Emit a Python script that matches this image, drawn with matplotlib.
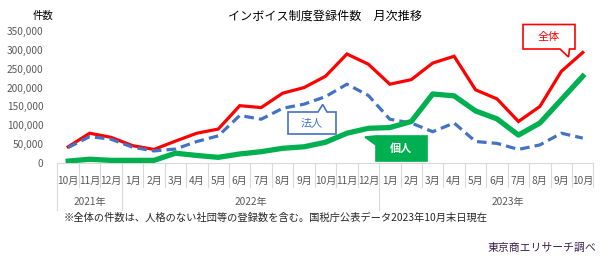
import numpy as np
import matplotlib
matplotlib.use("Agg")
import matplotlib.pyplot as plt
from matplotlib.patches import Polygon
from matplotlib.lines import Line2D
import matplotlib.transforms as mtransforms

plt.rcParams['font.family'] = ['Noto Sans CJK JP', 'DejaVu Sans']

# =========================
# DATA
# =========================
months = ["10月", "11月", "12月",
          "1月", "2月", "3月", "4月", "5月", "6月", "7月", "8月", "9月", "10月", "11月", "12月",
          "1月", "2月", "3月", "4月", "5月", "6月", "7月", "8月", "9月", "10月"]
years = ["2021年", "2022年", "2023年"]
year_start = [0, 3, 15]        # first category index of each year group
year_len = [3, 12, 12]         # 2023 group spans 12 slots, 10 filled

total = [43000, 79000, 68000, 46000, 36000, 58000, 79000, 90000, 152000, 147000,
         185000, 200000, 230000, 289000, 262000, 209000, 221000, 265000, 283000, 194000,
         170000, 110000, 150000, 243000, 293000]
corp = [41000, 70000, 63000, 42000, 32000, 37000, 57000, 72000, 126000, 116000,
        145000, 156000, 176000, 209000, 179000, 116000, 106000, 83000, 106000, 57000,
        52000, 36000, 48000, 79000, 66000]
indiv = [5000, 10000, 7000, 7000, 7000, 26000, 20000, 15000, 24000, 30000,
         39000, 43000, 55000, 79000, 92000, 94000, 110000, 183000, 178000, 138000,
         117000, 74000, 106000, 168000, 230000]

yticks = [0, 50000, 100000, 150000, 200000, 250000, 300000, 350000]

RED = "#FF0000"
BLUE = "#4472C4"
GREEN = "#00B050"
TICK = "#595959"

W, H = 610, 260

# =========================
# PLOT
# =========================
fig = plt.figure(figsize=(W / 100, H / 100), dpi=100)
ax = fig.add_axes([57.5 / W, 1 - 163 / H, 536 / W, 132 / H])

x = np.arange(len(months))
ax.plot(x, total, color=RED, linewidth=2.3, solid_joinstyle="miter", zorder=3)
ax.plot(x, corp, color=BLUE, linewidth=2.3, linestyle=(0, (3.0, 1.6)), zorder=3)
ax.plot(x, indiv, color=GREEN, linewidth=3.8, zorder=3)

ax.set_xlim(-0.5, len(months) - 0.5)
ax.set_ylim(0, 350000)
ax.set_yticks(yticks)
ax.set_yticklabels([f"{v:,}" for v in yticks], color=TICK, fontsize=7.3)
ax.set_xticks(x)
ax.set_xticklabels(months, color=TICK, fontsize=7.3)
ax.tick_params(axis="both", length=0)
ax.tick_params(axis="y", pad=10)
ax.tick_params(axis="x", pad=9)

for s in ["top", "right", "left"]:
    ax.spines[s].set_visible(False)
ax.spines["bottom"].set_color("#D9D9D9")
ax.spines["bottom"].set_linewidth(0.8)

# category separators below the axis
trans = mtransforms.blended_transform_factory(ax.transData, ax.transAxes)
short_y = (163 - 187) / 132
long_y = (163 - 210) / 132
group_edges = set(year_start) | {len(months)}
for k in range(len(months) + 1):
    xb = k - 0.5
    y_low = long_y if (k in year_start or k == 0) else short_y
    ax.add_line(Line2D([xb, xb], [0, y_low], transform=trans, color="#D9D9D9",
                       linewidth=0.8, clip_on=False))

for name, st, ln in zip(years, year_start, year_len):
    xc = st + (ln - 1) / 2
    ax.text(xc, (163 - 201.5) / 132, name, transform=trans, ha="center", va="center",
            color=TICK, fontsize=7.3)

# titles and notes
def fx(px):
    return px / W

def fy(py):
    return 1 - py / H

fig.text(fx(325), fy(16.5), "インボイス制度登録件数　月次推移", ha="center", va="center",
         fontsize=8.7, color="#000000")
fig.text(fx(43), fy(15.5), "件数", ha="center", va="center", fontsize=7.5, color="#000000")
fig.text(fx(64), fy(218), "※全体の件数は、人格のない社団等の登録数を含む。国税庁公表データ2023年10月末日現在",
         ha="left", va="center", fontsize=7.4, color="#262626")
fig.text(fx(596), fy(248), "東京商エリサーチ調べ", ha="right", va="center",
         fontsize=7.8, color="#3C1F4A")

# callouts
def callout(points, face, edge, label, tx, ty, tcolor, bold=False):
    pts = [(fx(a), fy(b)) for a, b in points]
    fig.patches.append(Polygon(pts, closed=True, facecolor=face, edgecolor=edge,
                               linewidth=1.2, transform=fig.transFigure, zorder=5,
                               joinstyle="miter"))
    fig.text(fx(tx), fy(ty), label, ha="center", va="center", fontsize=8,
             color=tcolor, fontweight="bold" if bold else "normal", zorder=6)

callout([(523, 24.5), (575, 24.5), (575, 49), (569.5, 49), (568.5, 57), (560, 49), (523, 49)],
        "white", RED, "全体", 549, 37, RED)
callout([(288, 112), (318, 112), (322.7, 104.5), (327, 112), (336, 112), (336, 134), (288, 134)],
        "white", BLUE, "法人", 312, 123, BLUE)
callout([(376, 136), (427, 136), (427, 161), (376, 161), (376, 145), (365, 137)],
        GREEN, GREEN, "個人", 401.5, 148.5, "white", bold=True)

fig.savefig("out.png", dpi=100)
